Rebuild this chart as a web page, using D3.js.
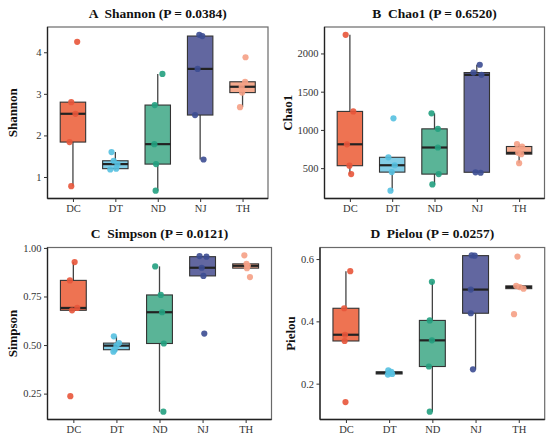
<!DOCTYPE html>
<html lang="en">
<head>
<meta charset="utf-8">
<title>Alpha diversity boxplots</title>
<script src="https://cdn.jsdelivr.net/npm/d3@7"></script>
<style>
  body { margin: 0; background: #fff; }
  text { font-family: "Liberation Serif", "Times New Roman", serif; }
</style>
</head>
<body>
<script>

// groups and colours
var groups = ["DC", "DT", "ND", "NJ", "TH"];
var pointColors = ["#E8553A", "#55C0E0", "#22A07F", "#3C4C92", "#F5A085"];
var boxColors = ["#EE7352", "#82CDE6", "#5AB497", "#6267A0", "#F5AA8E"];

// sample values per group
var shannon = [
  [4.25, 2.80, 2.52, 1.84, 0.78],
  [1.60, 1.39, 1.31, 1.20, 1.18],
  [3.48, 2.73, 1.79, 1.31, 0.67],
  [4.42, 4.39, 3.60, 2.49, 1.42],
  [3.88, 3.29, 3.17, 3.03, 2.68]
];
var chao1 = [
  [2244, 1242, 812, 532, 422],
  [1152, 642, 538, 448, 205],
  [1217, 1014, 770, 422, 287],
  [1852, 1750, 1720, 446, 440],
  [815, 783, 700, 683, 565]
];
var simpson = [
  [0.927, 0.833, 0.691, 0.679, 0.237],
  [0.545, 0.510, 0.497, 0.476, 0.466],
  [0.905, 0.758, 0.669, 0.508, 0.157],
  [0.958, 0.955, 0.898, 0.856, 0.559],
  [0.962, 0.918, 0.908, 0.896, 0.850]
];
var pielou = [
  [0.561, 0.442, 0.357, 0.337, 0.141],
  [0.243, 0.238, 0.235, 0.231, 0.229],
  [0.527, 0.403, 0.339, 0.255, 0.110],
  [0.612, 0.611, 0.502, 0.426, 0.246],
  [0.608, 0.514, 0.510, 0.505, 0.423]
];

// horizontal jitter of each point (fraction of category step)
var jitShannon = [[0.10,-0.04,0.06,-0.08,-0.04],[-0.09,-0.04,0.05,0.02,-0.12],[0.11,-0.07,-0.08,-0.04,-0.05],[-0.02,0.05,-0.06,-0.12,0.08],[0.07,0.06,-0.02,-0.01,-0.06]];
var jitChao1 = [[-0.10,0.08,-0.07,-0.01,0.03],[0.03,-0.09,0.06,-0.01,-0.04],[-0.07,0.08,0.08,0.10,-0.05],[0.07,-0.08,0.11,-0.03,0.09],[-0.05,0.07,-0.02,0.05,0.0]];
var jitSimpson = [[0.03,-0.08,0.09,-0.03,-0.07],[-0.06,0.06,0.0,-0.04,-0.07],[-0.10,0.03,0.06,0.10,0.09],[-0.07,0.09,-0.02,0.02,0.04],[-0.03,0.02,0.05,0.03,0.10]];
var jitPielou = [[0.10,-0.04,-0.02,-0.03,-0.01],[-0.02,0.05,0.01,0.07,-0.03],[-0.01,-0.06,-0.01,-0.08,-0.06],[-0.09,-0.02,-0.11,-0.11,-0.06],[-0.03,-0.06,0.02,0.11,-0.11]];

// tick labels
var ticksShannon = [1, 2, 3, 4];
var ticksChao1 = [500, 1000, 1500, 2000];
var ticksSimpson = [0.25, 0.50, 0.75, 1.00];
var ticksPielou = [0.2, 0.4, 0.6];

var panels = [
  { title: "A  Shannon (P = 0.0384)", ylab: "Shannon", data: shannon, jit: jitShannon, ticks: ticksShannon, fmt: d3.format("d"),
    x0: 47.5, x1: 268, y0: 27, y1: 198.5, ylabX: 17 },
  { title: "B  Chao1 (P = 0.6520)", ylab: "Chao1", data: chao1, jit: jitChao1, ticks: ticksChao1, fmt: d3.format("d"),
    x0: 324.5, x1: 544.5, y0: 27, y1: 198.5, ylabX: 292 },
  { title: "C  Simpson (P = 0.0121)", ylab: "Simpson", data: simpson, jit: jitSimpson, ticks: ticksSimpson, fmt: d3.format(".2f"),
    x0: 47.5, x1: 271.5, y0: 247.5, y1: 419.5, ylabX: 17 },
  { title: "D  Pielou (P = 0.0257)", ylab: "Pielou", data: pielou, jit: jitPielou, ticks: ticksPielou, fmt: d3.format(".1f"),
    x0: 320, x1: 544.7, y0: 247.5, y1: 419.5, ylabX: 295 }
];

var w = 550, h = 442;
var svg = d3.select("body").append("svg")
  .attr("width", w)
  .attr("height", h);

// box statistics (tukey, 1.5 IQR)
function boxStats(vals) {
  var s = vals.slice().sort(d3.ascending);
  var q1 = d3.quantile(s, 0.25), med = d3.quantile(s, 0.5), q3 = d3.quantile(s, 0.75);
  var iqr = q3 - q1;
  var lo = d3.min(s.filter(function(v) { return v >= q1 - 1.5 * iqr; }));
  var hi = d3.max(s.filter(function(v) { return v <= q3 + 1.5 * iqr; }));
  return { q1: q1, med: med, q3: q3, lo: lo, hi: hi };
}

panels.forEach(function(p) {
  var g = svg.append("g");

  var x = d3.scalePoint()
    .domain(groups)
    .range([p.x0, p.x1])
    .padding(0.6);
  var step = x.step();
  var boxW = step * 0.6;

  var all = d3.merge(p.data);
  var ext = d3.extent(all);
  var pad = (ext[1] - ext[0]) * 0.05;
  var y = d3.scaleLinear()
    .domain([ext[0] - pad, ext[1] + pad])
    .range([p.y1, p.y0]);

  // panel border
  g.append("rect")
    .attr("x", p.x0).attr("y", p.y0)
    .attr("width", p.x1 - p.x0).attr("height", p.y1 - p.y0)
    .attr("fill", "none")
    .attr("stroke", "#6a6a6a")
    .attr("stroke-width", 1.2);

  // y axis
  var yAxis = g.append("g")
    .attr("transform", "translate(" + p.x0 + ",0)")
    .call(d3.axisLeft(y).tickValues(p.ticks).tickFormat(p.fmt).tickSize(3.5).tickPadding(2.5));
  yAxis.select(".domain").attr("stroke", "#222").attr("stroke-width", 1.3)
    .attr("d", "M0," + p.y0 + "V" + p.y1);
  yAxis.selectAll(".tick line").attr("stroke", "#333");
  yAxis.selectAll(".tick text")
    .attr("fill", "#333")
    .style("font-size", "10.5px")
    .style("font-family", "'Liberation Serif', serif");

  // x axis
  var xAxis = g.append("g")
    .attr("transform", "translate(0," + p.y1 + ")")
    .call(d3.axisBottom(x).tickSize(3.5).tickPadding(2.5));
  xAxis.select(".domain").attr("stroke", "#222").attr("stroke-width", 1.3)
    .attr("d", "M" + p.x0 + ",0H" + p.x1);
  xAxis.selectAll(".tick line").attr("stroke", "#333");
  xAxis.selectAll(".tick text")
    .attr("fill", "#333")
    .style("font-size", "10.5px")
    .style("font-family", "'Liberation Serif', serif");

  // title
  g.append("text")
    .attr("x", (p.x0 + p.x1) / 2)
    .attr("y", p.y0 - 9.5)
    .attr("text-anchor", "middle")
    .style("white-space", "pre")
    .style("font-size", "13.5px")
    .style("font-weight", "bold")
    .attr("fill", "#111")
    .text(p.title);

  // y label
  g.append("text")
    .attr("transform", "translate(" + p.ylabX + "," + ((p.y0 + p.y1) / 2) + ") rotate(-90)")
    .attr("text-anchor", "middle")
    .style("font-size", "13px")
    .style("font-weight", "bold")
    .attr("fill", "#111")
    .text(p.ylab);

  // boxes
  groups.forEach(function(grp, i) {
    var st = boxStats(p.data[i]);
    var cx = x(grp);

    g.append("line")
      .attr("x1", cx).attr("x2", cx)
      .attr("y1", y(st.q3)).attr("y2", y(st.hi))
      .attr("stroke", "#444").attr("stroke-width", 1.3);
    g.append("line")
      .attr("x1", cx).attr("x2", cx)
      .attr("y1", y(st.q1)).attr("y2", y(st.lo))
      .attr("stroke", "#444").attr("stroke-width", 1.3);

    g.append("rect")
      .attr("x", cx - boxW / 2)
      .attr("y", y(st.q3))
      .attr("width", boxW)
      .attr("height", Math.max(0.5, y(st.q1) - y(st.q3)))
      .attr("fill", boxColors[i])
      .attr("stroke", "#333")
      .attr("stroke-width", 1.1);

    g.append("line")
      .attr("x1", cx - boxW / 2).attr("x2", cx + boxW / 2)
      .attr("y1", y(st.med)).attr("y2", y(st.med))
      .attr("stroke", "#222").attr("stroke-width", 2.2);

    // jittered points
    g.selectAll(null)
      .data(p.data[i])
      .enter()
      .append("circle")
      .attr("cx", function(d, k) { return cx + p.jit[i][k] * step; })
      .attr("cy", function(d) { return y(d); })
      .attr("r", 3.1)
      .attr("fill", pointColors[i])
      .attr("fill-opacity", 0.9);
  });
});

</script>
</body>
</html>
